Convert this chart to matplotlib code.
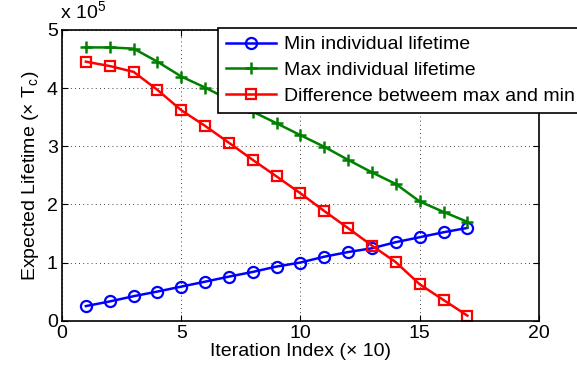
import matplotlib
matplotlib.use("Agg")
import matplotlib.pyplot as plt

plt.rcParams["font.family"] = ["Liberation Sans", "DejaVu Sans"]
plt.rcParams["mathtext.fontset"] = "custom"
plt.rcParams["mathtext.rm"] = "Liberation Sans"
plt.rcParams["mathtext.it"] = "Liberation Sans"

# values in units of 1e5
iteration = list(range(1, 18))
min_life = [0.25, 0.33, 0.42, 0.50, 0.585, 0.67, 0.757, 0.838, 0.93, 1.0,
            1.10, 1.18, 1.245, 1.35, 1.435, 1.52, 1.595]
max_life = [4.70, 4.70, 4.68, 4.455, 4.20, 4.01, 3.80, 3.595, 3.395, 3.19,
            2.99, 2.765, 2.55, 2.35, 2.05, 1.87, 1.70]
diff_life = [4.455, 4.38, 4.28, 3.97, 3.62, 3.35, 3.06, 2.765, 2.48, 2.19,
             1.885, 1.59, 1.29, 1.005, 0.625, 0.355, 0.086]

fig = plt.figure(figsize=(5.77, 3.75), dpi=100)
ax = fig.add_axes([0.1075, 0.145, 0.8265, 0.775])

ax.plot(iteration, min_life, color="#0000ff", lw=1.8, marker="o", ms=8,
        mfc="none", mew=1.6, label="Min individual lifetime")
ax.plot(iteration, max_life, color="#008000", lw=1.8, marker="+", ms=9,
        mew=1.8, label="Max individual lifetime")
ax.plot(iteration, diff_life, color="#ff0000", lw=1.8, marker="s", ms=7,
        mfc="none", mew=1.6, label="Difference betweem max and min")

ax.set_xlim(0, 20)
ax.set_ylim(0, 5)
ax.set_xticks([0, 5, 10, 15, 20])
ax.set_yticks([0, 1, 2, 3, 4, 5])
ax.grid(True, color="black", linestyle=(0, (1, 4)), linewidth=0.6)
ax.tick_params(direction="in", top=True, right=True, labelsize=14, length=4, pad=3)
for s in ax.spines.values():
    s.set_linewidth(1.2)

ax.set_xlabel("Iteration Index (× 10)", fontsize=14, labelpad=1)
ax.set_ylabel("Expected Lifetime (× T$_c$)", fontsize=14, labelpad=4)
fig.text(0.104, 0.94, r"x 10$^5$", fontsize=14, ha="left", va="bottom")

leg = fig.legend(loc="upper left", bbox_to_anchor=(218 / 577, 1 - 28 / 375),
                 fontsize=14, frameon=True, fancybox=False, edgecolor="black",
                 framealpha=1, handlelength=2.6, labelspacing=0.42,
                 borderaxespad=0, borderpad=0.4, handletextpad=0.4)
leg.get_frame().set_linewidth(1.2)

fig.savefig("out.png", dpi=100)
